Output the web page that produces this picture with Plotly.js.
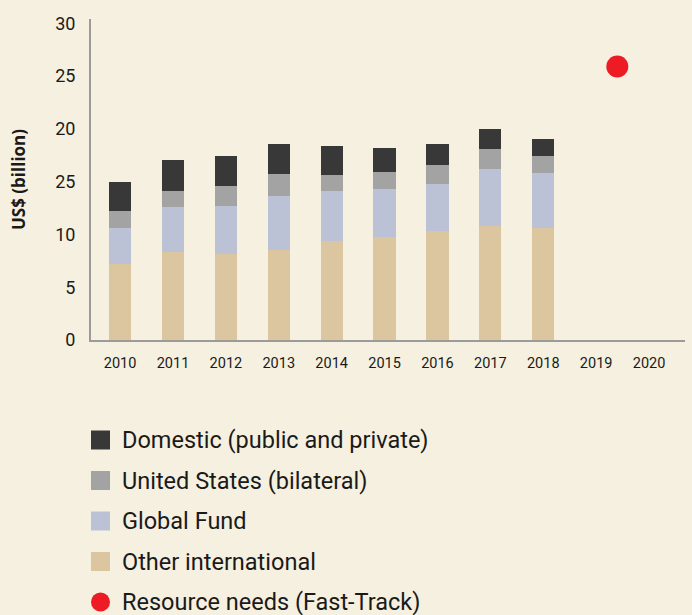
<!DOCTYPE html>
<html>
<head>
<meta charset="utf-8">
<script src="https://cdn.plot.ly/plotly-3.0.1.min.js"></script>
<style>
  html, body { margin: 0; padding: 0; background: #f6f0e0; }
  #chart { width: 692px; height: 615px; }
</style>
</head>
<body>
<div id="chart"></div>
<script>
// ---- data ----
const years = [2010, 2011, 2012, 2013, 2014, 2015, 2016, 2017, 2018];
const otherInternational = [7.2, 8.35, 8.15, 8.5, 9.4, 9.75, 10.3, 10.8, 10.6];
const globalFund = [3.4, 4.25, 4.55, 5.15, 4.7, 4.55, 4.5, 5.4, 5.2];
const unitedStates = [1.6, 1.5, 1.9, 2.05, 1.5, 1.6, 1.8, 1.9, 1.6];
const domestic = [2.8, 2.9, 2.8, 2.9, 2.8, 2.3, 2.0, 1.9, 1.65];
const needsYear = [2019.4];
const needsValue = [25.9];

const xTickVals = [2010, 2011, 2012, 2013, 2014, 2015, 2016, 2017, 2018, 2019, 2020];
const xTickText = ["2010", "2011", "2012", "2013", "2014", "2015", "2016", "2017", "2018", "2019", "2020"];
const yTickVals = [0, 5, 10, 15, 20, 25, 30];
const yTickText = ["0", "5", "10", "25", "20", "25", "30"];

const seriesNames = ["Domestic (public and private)", "United States (bilateral)", "Global Fund", "Other international", "Resource needs (Fast-Track)"];
const seriesColors = ["#383838", "#a3a3a3", "#bcc2d6", "#dbc6a0", "#ed1c24"];

// ---- traces ----
const barW = 0.42;
const traces = [
  {type: 'bar', x: years, y: otherInternational, name: seriesNames[3], marker: {color: seriesColors[3]}, width: barW},
  {type: 'bar', x: years, y: globalFund, name: seriesNames[2], marker: {color: seriesColors[2]}, width: barW},
  {type: 'bar', x: years, y: unitedStates, name: seriesNames[1], marker: {color: seriesColors[1]}, width: barW},
  {type: 'bar', x: years, y: domestic, name: seriesNames[0], marker: {color: seriesColors[0]}, width: barW},
  {type: 'scatter', mode: 'markers', x: needsYear, y: needsValue, name: seriesNames[4],
   marker: {color: seriesColors[4], size: 22}}
];

// ---- legend drawn as shapes + annotations ----
const legendY0 = 440, legendStep = 40.5, sw = 19;
const shapes = [];
const annotations = [];
seriesNames.forEach((nm, i) => {
  const cy = legendY0 + i * legendStep;
  shapes.push({
    type: i === 4 ? 'circle' : 'rect',
    xref: 'paper', yref: 'paper',
    x0: 0, x1: sw / 594,
    y0: 1 - (cy + sw / 2 - 19) / 321,
    y1: 1 - (cy - sw / 2 - 19) / 321,
    fillcolor: seriesColors[i], line: {width: 0}
  });
  annotations.push({
    xref: 'paper', yref: 'paper', x: 29 / 594, y: 1 - (cy - 19) / 321,
    xanchor: 'left', yanchor: 'middle', showarrow: false,
    text: nm, font: {family: 'Roboto, sans-serif', size: 23.5, color: '#1a1a1a'}
  });
});

const layout = {
  width: 692, height: 615,
  paper_bgcolor: '#f6f0e0', plot_bgcolor: '#f6f0e0',
  margin: {l: 91, r: 7, t: 19, b: 275},
  barmode: 'stack',
  showlegend: false,
  font: {family: 'Roboto, sans-serif', color: '#1a1a1a'},
  xaxis: {
    range: [2009.45, 2020.68],
    tickvals: xTickVals, ticktext: xTickText,
    showgrid: false, zeroline: false,
    showline: true, linecolor: '#9b9b9b', linewidth: 2,
    ticks: '', ticklabelstandoff: 9,
    tickfont: {size: 14.5, color: '#1a1a1a'}
  },
  yaxis: {
    range: [0, 30.4],
    tickvals: yTickVals, ticktext: yTickText,
    showgrid: false, zeroline: false,
    showline: true, linecolor: '#9b9b9b', linewidth: 2,
    ticks: '', ticklabelstandoff: 10,
    tickfont: {size: 18, color: '#1a1a1a'},
    title: {text: '<b>US$ (billion)</b>', font: {size: 17, color: '#1a1a1a', family: 'Open Sans, sans-serif'}, standoff: 25}
  },
  shapes: shapes,
  annotations: annotations
};

Plotly.newPlot('chart', traces, layout, {displayModeBar: false, staticPlot: true});
</script>
</body>
</html>
